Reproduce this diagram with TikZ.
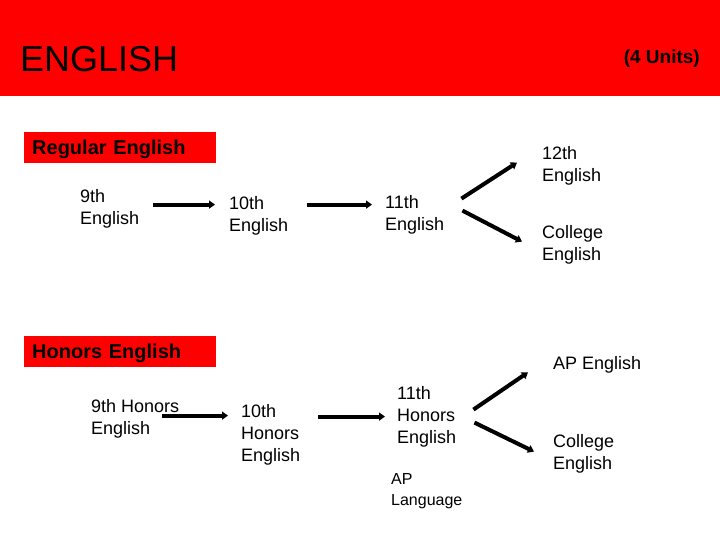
\documentclass[tikz,border=0pt]{standalone}
\usepackage{fontspec}
\setmainfont{Liberation Sans}
\usetikzlibrary{arrows.meta}

\begin{document}
\begin{tikzpicture}[x=1pt, y=-1pt,
	course/.style={anchor=north west, inner sep=0pt, align=left, font=\fontsize{18}{22}\selectfont},
	track/.style={anchor=north west, fill=red, minimum width=192pt, minimum height=31pt, inner xsep=8pt, inner ysep=0pt, text width=176pt, align=left, text height=15pt, text depth=2pt, font=\bfseries\fontsize{20}{24}\selectfont},
	link/.style={line width=4pt, -{Triangle[length=6pt,width=8pt]}}]
	\useasboundingbox (0, 0) rectangle (720, 540);

	% header
	\fill [red] (0, 0) rectangle (720, 96);
	\node [anchor=base west, inner sep=0pt, font=\fontsize{36}{40}\selectfont] (title) at (20, 72) {ENGLISH};
	\node [anchor=base east, inner sep=0pt, font=\bfseries\fontsize{19}{22}\selectfont] (units) at (700, 64) {(4 Units)};

	% regular track
	\node [track] (regular) at (24, 132) {Regular English};
	\node [course] (reg9) at (80, 189) {9th\\English};
	\node [course] (reg10) at (229, 196) {10th\\English};
	\node [course] (reg11) at (385, 195) {11th\\English};
	\node [course] (reg12) at (542, 146) {12th\\English};
	\node [course] (regcol) at (542, 225) {College\\English};

	% honors track
	\node [track] (honors) at (24, 336) {Honors English};
	\node [course] (hon9) at (91, 399) {9th Honors\\English};
	\node [course] (hon10) at (241, 404) {10th\\Honors\\English};
	\node [course] (hon11) at (397, 386) {11th\\Honors\\English};
	\node [course, anchor=base west] (honap) at (553, 369) {AP English};
	\node [course] (honcol) at (553, 434) {College\\English};
	\node [course, font=\fontsize{16}{21}\selectfont] (aplang) at (391, 473) {AP\\Language};

	\draw [link] ([xshift=14pt, yshift=4pt]reg9.east) to ([xshift=-14pt, yshift=4pt]reg9.east -| reg10.west);
	\draw [link] ([xshift=19pt, yshift=10pt]reg10.east |- reg11.west) to ([xshift=-13pt, yshift=10pt]reg11.west);
	\draw [link] ([xshift=17pt, yshift=16pt]reg11.east) to ([xshift=-25pt, yshift=3pt]reg12.west);
	\draw [link] ([xshift=18pt, yshift=4pt]reg11.east) to ([xshift=-20pt, yshift=3pt]regcol.west);

	\draw [link] ([xshift=-17pt, yshift=3pt]hon9.east) to ([xshift=-13pt, yshift=3pt]hon9.east -| hon10.west);
	\draw [link] ([xshift=18pt]hon10.east |- hon11.west) to ([xshift=-12pt]hon11.west);
	\draw [link] ([xshift=17pt, yshift=7pt]hon11.east) to ([xshift=-25pt, yshift=-8pt]honap.west);
	\draw [link] ([xshift=18pt, yshift=-6pt]hon11.east) to ([xshift=-19pt, yshift=2pt]honcol.west);
\end{tikzpicture}
\end{document}
